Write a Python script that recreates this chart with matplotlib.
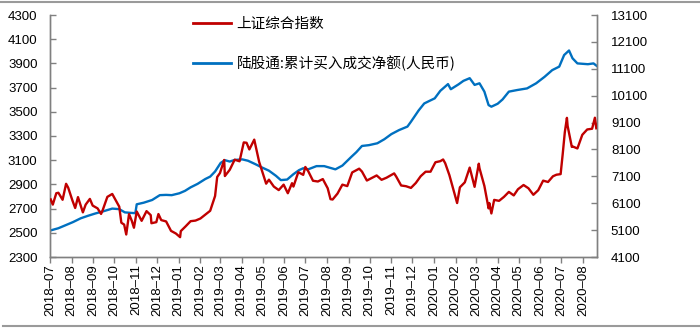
import matplotlib
matplotlib.use("Agg")
import matplotlib.pyplot as plt
import matplotlib.dates as mdates
from matplotlib.lines import Line2D
import pandas as pd

# ---- data ----
sse_dates = [
    "2018-07-02","2018-07-05","2018-07-10","2018-07-13","2018-07-19","2018-07-24","2018-07-27",
    "2018-08-02","2018-08-06","2018-08-10","2018-08-17","2018-08-21","2018-08-27","2018-08-31",
    "2018-09-07","2018-09-12","2018-09-14","2018-09-21","2018-09-28",
    "2018-10-08","2018-10-11","2018-10-15","2018-10-18","2018-10-22","2018-10-26","2018-10-29",
    "2018-11-02","2018-11-09","2018-11-16","2018-11-22","2018-11-23","2018-11-30",
    "2018-12-03","2018-12-07","2018-12-14","2018-12-21","2018-12-28",
    "2019-01-03","2019-01-04","2019-01-11","2019-01-18","2019-01-25",
    "2019-02-01","2019-02-15","2019-02-22","2019-02-25",
    "2019-03-01","2019-03-07","2019-03-08","2019-03-15","2019-03-22","2019-03-29",
    "2019-04-04","2019-04-08","2019-04-12","2019-04-19","2019-04-26",
    "2019-05-06","2019-05-10","2019-05-17","2019-05-24","2019-05-31",
    "2019-06-06","2019-06-12","2019-06-14","2019-06-21","2019-06-28",
    "2019-07-01","2019-07-05","2019-07-12","2019-07-19","2019-07-26",
    "2019-08-02","2019-08-06","2019-08-09","2019-08-16","2019-08-23","2019-08-30",
    "2019-09-06","2019-09-16","2019-09-20","2019-09-27",
    "2019-10-11","2019-10-18","2019-10-25",
    "2019-11-05","2019-11-08","2019-11-15","2019-11-22","2019-11-29",
    "2019-12-06","2019-12-13","2019-12-20","2019-12-27",
    "2020-01-03","2020-01-10","2020-01-14","2020-01-17","2020-01-23",
    "2020-02-03","2020-02-07","2020-02-14","2020-02-21","2020-02-28",
    "2020-03-05","2020-03-06","2020-03-13","2020-03-19","2020-03-20","2020-03-23","2020-03-27",
    "2020-04-03","2020-04-10","2020-04-17","2020-04-24","2020-04-30",
    "2020-05-08","2020-05-15","2020-05-22","2020-05-29",
    "2020-06-05","2020-06-12","2020-06-19","2020-06-24","2020-06-30",
    "2020-07-03","2020-07-06","2020-07-09","2020-07-10","2020-07-16","2020-07-17","2020-07-24","2020-07-31",
    "2020-08-07","2020-08-14","2020-08-18","2020-08-20",
]
sse_values = [
    2776, 2733, 2827, 2831, 2773, 2905, 2873,
    2768, 2705, 2795, 2669, 2733, 2780, 2725,
    2702, 2656, 2682, 2797, 2821,
    2716, 2583, 2568, 2486, 2655, 2598, 2542,
    2676, 2599, 2679, 2646, 2579, 2588,
    2655, 2605, 2594, 2516, 2494,
    2464, 2514, 2554, 2596, 2601,
    2618, 2682, 2804, 2961,
    2994, 3102, 2969, 3021, 3104, 3091,
    3247, 3244, 3189, 3270, 3086,
    2906, 2939, 2882, 2853, 2898,
    2827, 2910, 2882, 3001, 2979,
    3044, 3011, 2930, 2924, 2944,
    2868, 2778, 2775, 2824, 2898, 2886,
    2999, 3030, 3006, 2932,
    2974, 2938, 2955,
    2991, 2964, 2891, 2885, 2871,
    2912, 2968, 3005, 3005,
    3083, 3092, 3106, 3075, 2976,
    2746, 2876, 2917, 3039, 2880,
    3071, 3034, 2887, 2702, 2746, 2660, 2772,
    2764, 2797, 2838, 2809, 2860,
    2895, 2868, 2814, 2852,
    2931, 2920, 2967, 2980, 2985,
    3152, 3332, 3450, 3383, 3210, 3214, 3197, 3310,
    3354, 3360, 3451, 3364,
]

hk_dates = [
    "2018-07-02","2018-07-13","2018-07-24","2018-08-03","2018-08-14","2018-08-24",
    "2018-09-04","2018-09-14","2018-09-28","2018-10-08","2018-10-16","2018-10-25","2018-10-31",
    "2018-11-02","2018-11-12","2018-11-24","2018-12-05","2018-12-14","2018-12-22",
    "2019-01-02","2019-01-10","2019-01-18","2019-01-28","2019-02-08","2019-02-15","2019-02-22",
    "2019-03-02","2019-03-08","2019-03-15","2019-03-22","2019-04-02","2019-04-10","2019-04-20",
    "2019-04-30","2019-05-10","2019-05-20","2019-05-27","2019-06-05","2019-06-14","2019-06-22",
    "2019-06-28","2019-07-05","2019-07-17","2019-07-28","2019-08-05","2019-08-13","2019-08-23",
    "2019-09-05","2019-09-12","2019-09-20","2019-09-30","2019-10-12","2019-10-22",
    "2019-11-01","2019-11-12","2019-11-24","2019-11-29","2019-12-10","2019-12-18","2019-12-25",
    "2020-01-02","2020-01-10","2020-01-21","2020-01-25","2020-02-05","2020-02-12","2020-02-21",
    "2020-02-28","2020-03-06","2020-03-13","2020-03-19","2020-03-23","2020-04-01","2020-04-08",
    "2020-04-17","2020-04-29","2020-05-13","2020-05-26","2020-06-07","2020-06-18","2020-06-28",
    "2020-07-05","2020-07-12","2020-07-17","2020-07-24","2020-08-08","2020-08-16","2020-08-21",
]
hk_values = [
    5090, 5170, 5290, 5400, 5540, 5630,
    5720, 5790, 5900, 5880, 5760, 5740, 5730,
    6060, 6120, 6220, 6400, 6410, 6400,
    6470, 6560, 6690, 6820, 7000, 7090, 7280,
    7600, 7700, 7650, 7710, 7730, 7680, 7560,
    7430, 7310, 7120, 6960, 6980, 7180, 7330,
    7400, 7360, 7480, 7480, 7420, 7360, 7500,
    7830, 8000, 8230, 8260, 8330, 8480,
    8670, 8820, 8950, 9130, 9550, 9810, 9900,
    10000, 10280, 10530, 10340, 10520, 10650, 10750,
    10500, 10560, 10250, 9750, 9690, 9800, 9960,
    10250, 10310, 10370, 10560, 10800, 11050, 11180,
    11610, 11780, 11490, 11300, 11270, 11300, 11200,
]

label_sse = "上证综合指数"
label_hk = "陆股通:累计买入成交净额(人民币)"
left_ticks = list(range(2300, 4301, 200))
right_ticks = list(range(4100, 13101, 1000))
x_start, x_end = "2018-07-01", "2020-08-21"

RED = "#C00000"
BLUE = "#0070C0"
GRAY = "#808080"

plt.rcParams["font.family"] = ["Liberation Sans", "DejaVu Sans"]

fig = plt.figure(figsize=(7, 3.3), dpi=100)
ax = fig.add_axes([50/700, 1-257/330, (597-50)/700, (257-15)/330])
ax2 = ax.twinx()

ax.plot(pd.to_datetime(sse_dates), sse_values, color=RED, lw=1.7, zorder=3)
ax2.plot(pd.to_datetime(hk_dates), hk_values, color=BLUE, lw=1.7, zorder=2)
ax.set_zorder(ax2.get_zorder() + 1)
ax.patch.set_visible(False)

ax.set_xlim(pd.Timestamp(x_start), pd.Timestamp(x_end))
ax.set_ylim(left_ticks[0], left_ticks[-1])
ax2.set_ylim(right_ticks[0], right_ticks[-1])
ax.set_yticks(left_ticks)
ax2.set_yticks(right_ticks)

ax.xaxis.set_major_locator(mdates.MonthLocator())
ax.xaxis.set_major_formatter(mdates.DateFormatter("%Y–%m"))

for a in (ax, ax2):
    a.spines["top"].set_visible(False)
    for s in ("left", "right", "bottom"):
        a.spines[s].set_color(GRAY)
        a.spines[s].set_linewidth(1.0)

ax.tick_params(axis="x", direction="out", length=4, width=1, color=GRAY,
               labelsize=9.5, pad=1, rotation=90)
ax.tick_params(axis="y", direction="in", length=4, width=1, color=GRAY,
               labelsize=9.5, pad=9)
ax2.tick_params(axis="y", direction="in", length=4, width=1, color=GRAY,
                labelsize=9.5, pad=10)

handles = [Line2D([], [], color=RED, lw=2), Line2D([], [], color=BLUE, lw=2)]
leg = fig.legend(handles, [label_sse, label_hk], loc="upper left",
                 bbox_to_anchor=(193/700, 1-17/330), frameon=False,
                 borderpad=0, borderaxespad=0, handlelength=2.6, handletextpad=0.4,
                 labelspacing=1.65,
                 prop={"family": ["Noto Sans CJK SC", "DejaVu Sans"], "size": 10.5})

fig.add_artist(Line2D([0, 1], [1-2/330, 1-2/330], transform=fig.transFigure, color="#9a9a9a", lw=1.5))
fig.add_artist(Line2D([3/700, 1], [1-326/330, 1-326/330], transform=fig.transFigure, color="#9a9a9a", lw=1.5))

fig.savefig("out.png", dpi=100)
